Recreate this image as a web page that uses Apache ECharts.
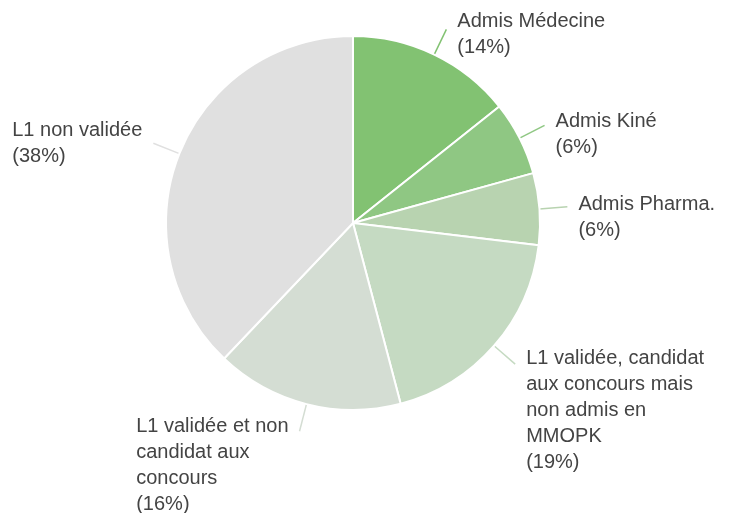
<!DOCTYPE html>
<html>
<head>
<meta charset="utf-8">
<script src="https://cdn.jsdelivr.net/npm/echarts@6/dist/echarts.min.js"></script>
<style>
  html, body { margin: 0; padding: 0; background: #fff; }
  #chart { width: 732px; height: 513px; }
</style>
</head>
<body>
<div id="chart"></div>
<script>
// categories, clockwise from 12 o'clock
var categories = [
    'Admis Médecine',
    'Admis Kiné',
    'Admis Pharma.',
    'L1 validée, candidat\naux concours mais\nnon admis en\nMMOPK',
    'L1 validée et non\ncandidat aux\nconcours',
    'L1 non validée'
]
// shares in %
var values = [14.3, 6.4, 6.2, 19.0, 16.2, 37.9]
var colors = ['#82c272', '#8fc783', '#b8d3b0', '#c5dac2', '#d4ddd3', '#e0e0e0']
// label block pushed down by half of this (px)
var labelSpacer = [10, 18, 22, 92, 68, 0]

function getPieChart() {
    var el = document.getElementById('chart')
    var chart = echarts.init(el)
    var data = categories.map(function (name, i) {
        return {
            name: name,
            value: values[i],
            itemStyle: { color: colors[i] }
        }
    })
    var rich = {
        t: {
            align: 'left',
            fontFamily: 'Liberation Sans, Arial, sans-serif',
            fontSize: 20,
            lineHeight: 26,
            color: '#444'
        }
    }
    labelSpacer.forEach(function (h, i) {
        rich['s' + i] = { fontSize: 1, lineHeight: h, height: h }
    })
    let option = {
        animation: false,
        series: [{
            type: 'pie',
            center: [353, 223],
            radius: [0, 187],
            startAngle: 90,
            clockwise: true,
            avoidLabelOverlap: false,
            itemStyle: {
                borderColor: '#fff',
                borderWidth: 2
            },
            label: {
                show: true,
                position: 'outside',
                distanceToLabelLine: 11,
                formatter: function (p) {
                    var lines = (p.name + '\n(' + Math.round(p.percent) + '%)').split('\n')
                    var txt = lines.map(function (s) { return '{t|' + s + '}' }).join('\n')
                    if (labelSpacer[p.dataIndex] > 0) {
                        txt = '{s' + p.dataIndex + '| }\n' + txt
                    }
                    return txt
                },
                rich: rich
            },
            labelLine: {
                show: true,
                length: 28,
                length2: 0,
                smooth: false,
                lineStyle: { width: 1.5 }
            },
            emphasis: { disabled: true },
            data: data
        }]
    }
    chart.setOption(option)
}
getPieChart()
</script>
</body>
</html>
